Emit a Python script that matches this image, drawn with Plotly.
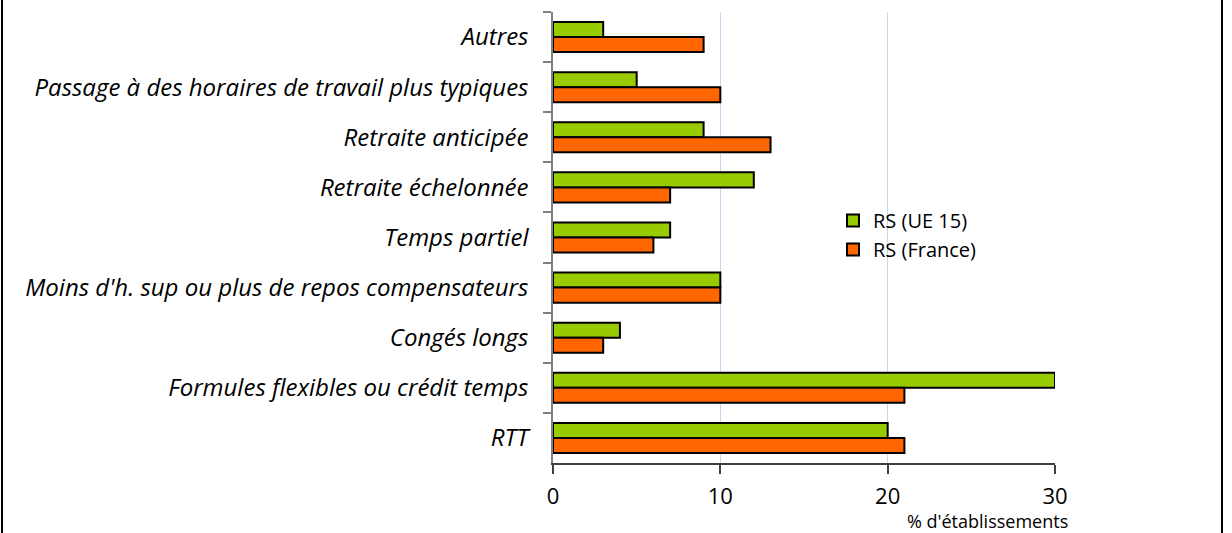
import plotly.graph_objects as go

categories = [
    "Autres",
    "Passage à des horaires de travail plus typiques",
    "Retraite anticipée",
    "Retraite échelonnée",
    "Temps partiel",
    "Moins d'h. sup ou plus de repos compensateurs",
    "Congés longs",
    "Formules flexibles ou crédit temps",
    "RTT",
]
ue15 = [3, 5, 9, 12, 7, 10, 4, 30, 20]
france = [9, 10, 13, 7, 6, 10, 3, 21, 21]
x_ticks = [0, 10, 20, 30]

W, H = 1232, 533
L, R, T, B = 553, 1055, 12, 463
FONT = "Open Sans"

fig = go.Figure()
fig.add_trace(go.Bar(
    y=categories, x=ue15, orientation="h", name="RS (UE 15)",
    marker=dict(color="#99cc00", line=dict(color="black", width=2)),
))
fig.add_trace(go.Bar(
    y=categories, x=france, orientation="h", name="RS (France)",
    marker=dict(color="#ff6600", line=dict(color="black", width=2)),
))

def px_x(p):
    return (p - L) / (R - L)

def px_y(p):
    return (B - p) / (B - T)

fig.update_layout(
    width=W, height=H,
    margin=dict(l=L, r=W - R, t=T, b=H - B, pad=0),
    paper_bgcolor="white", plot_bgcolor="white",
    barmode="group", bargap=0.4, bargroupgap=0,
    font=dict(family=FONT, color="black"),
    showlegend=True,
    legend=dict(
        x=px_x(833), y=px_y(201), xanchor="left", yanchor="top",
        font=dict(size=20, family=FONT), bgcolor="rgba(0,0,0,0)",
        itemwidth=30, tracegroupgap=0,
    ),
    xaxis=dict(
        range=[0, 30], tickvals=x_ticks, ticktext=[str(v) for v in x_ticks],
        showgrid=True, gridcolor="#c6d7ef", gridwidth=1,
        showline=True, linecolor="#404040", linewidth=1.5,
        ticks="outside", ticklen=9, tickcolor="#404040", tickwidth=1.5,
        tickfont=dict(size=22, family=FONT), ticklabelstandoff=4,
        zeroline=False,
    ),
    yaxis=dict(
        categoryorder="array", categoryarray=categories, autorange="reversed",
        showline=True, linecolor="#808080", linewidth=1.5,
        ticks="outside", ticklen=8, tickcolor="#808080", tickwidth=2,
        tickson="boundaries",
        tickfont=dict(size=24, family=FONT, style="italic"), ticklabelstandoff=18,
        showgrid=False, zeroline=False,
    ),
    annotations=[dict(
        text="% d'établissements", xref="paper", yref="paper",
        x=px_x(987), y=px_y(534), xanchor="center", yanchor="bottom",
        showarrow=False, font=dict(size=18, family=FONT), borderpad=0,
    )],
    shapes=[
        dict(type="line", xref="paper", yref="paper",
             x0=px_x(2), x1=px_x(2), y0=px_y(-5), y1=px_y(540),
             line=dict(color="black", width=2)),
        dict(type="line", xref="paper", yref="paper",
             x0=px_x(1222), x1=px_x(1222), y0=px_y(-5), y1=px_y(540),
             line=dict(color="black", width=2)),
    ],
)

fig.write_html(
    "out.html",
    config={"displayModeBar": False},
    post_script="document.body.style.margin='0';document.body.style.overflow='hidden';",
)
